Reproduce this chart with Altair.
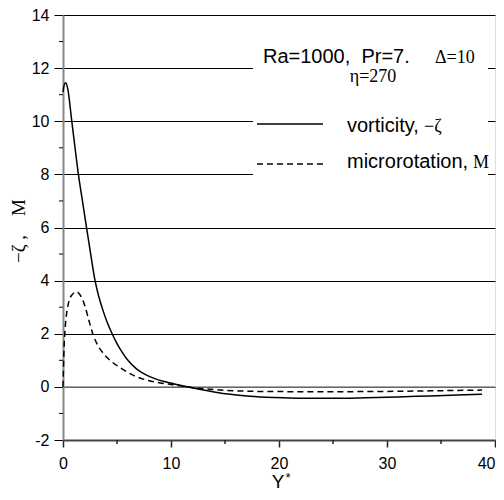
import altair as alt
import pandas as pd

# ---- data ----
vort_x = [0.0, 0.1, 0.25, 0.45, 0.8, 1.1, 1.42, 1.8, 2.19, 2.6, 2.96, 3.3, 3.7, 4.1, 4.57, 5.0, 5.5,
          6.05, 6.8, 7.6, 8.5, 9.4, 10.4, 11.3, 12.5, 14.0, 15.5, 17.3, 19.5, 22.0, 25.0, 28.0, 31.0,
          34.0, 36.5, 38.8]
vort_y = [11.1, 11.35, 11.45, 11.2, 10.05, 9.05, 8.02, 7.0, 5.97, 4.9, 4.02, 3.42, 2.88, 2.42, 1.98,
          1.63, 1.29, 0.98, 0.68, 0.47, 0.31, 0.2, 0.1, 0.02, -0.08, -0.19, -0.28, -0.35, -0.4, -0.43,
          -0.43, -0.41, -0.38, -0.34, -0.31, -0.28]

micro_x = [0.0, 0.05, 0.1, 0.18, 0.3, 0.49, 0.8, 1.27, 1.6, 2.04, 2.4, 2.8, 3.2, 3.6, 3.9, 4.5, 5.43,
           6.5, 7.9, 9.0, 10.2, 11.5, 13.0, 15.0, 18.0, 22.0, 26.0, 30.0, 34.0, 38.8]
micro_y = [0.0, 0.8, 1.5, 2.1, 2.65, 3.12, 3.45, 3.58, 3.45, 3.03, 2.5, 1.95, 1.58, 1.33, 1.18, 0.95,
           0.69, 0.44, 0.24, 0.15, 0.08, 0.0, -0.07, -0.13, -0.17, -0.18, -0.18, -0.17, -0.15, -0.12]

y_ticks = [-2, 0, 2, 4, 6, 8, 10, 12, 14]
y_minor = [-1, 1, 3, 5, 7, 9, 11, 13]
x_ticks = [0, 10, 20, 30, 40]
x_minor = [5, 15, 25, 35]

legend_title = "Ra=1000,\u00a0\u00a0Pr=7."
legend_delta = "\u0394=10"
legend_eta = "\u03b7=270"
label_vort = "vorticity,"
label_vort_sym = "\u2212\u03b6"
label_micro = "microrotation,"
label_micro_sym = "M"
y_title = "\u2212\u03b6\u00a0,\u00a0\u00a0\u00a0\u00a0M"
x_title = "Y"
x_title_sup = "*"

W, H = 432, 425
SANS = "Liberation Sans"
SERIF = "Liberation Serif"

xs = alt.Scale(domain=[0, 40], nice=False, zero=False)
ys = alt.Scale(domain=[-2, 14], nice=False, zero=False)

vort = pd.DataFrame({"x": vort_x, "y": vort_y})
micro = pd.DataFrame({"x": micro_x, "y": micro_y})
one = pd.DataFrame({"a": [0]})

x_axis = alt.Axis(values=x_ticks, grid=False, tickSize=7, tickColor="#222", tickWidth=1.5,
                  domainColor="#444", domainWidth=2, labelFont=SANS, labelFontSize=16,
                  labelColor="black", labelPadding=8, labelFlush=False, title=None,
                  labelAlign={"condition": {"test": "datum.value == 40", "value": "right"},
                              "value": "center"})
y_axis = alt.Axis(values=y_ticks, grid=True, gridColor="black", gridWidth=1, gridOpacity=1,
                  tickSize=9, tickColor="black", tickWidth=1, domainColor="#888", domainWidth=2,
                  labelFont=SANS, labelFontSize=16, labelColor="black", labelPadding=5,
                  labelFlush=False, labelExpr="'' + datum.value", title=None)

# white legend box hiding grid lines
box = alt.Chart(one).mark_rect(color="white").encode(
    x=alt.value(190), x2=alt.value(425), y=alt.value(10), y2=alt.value(190))

zero = alt.Chart(pd.DataFrame({"y": [0]})).mark_rule(color="#888", strokeWidth=1.5).encode(
    y=alt.Y("y:Q", scale=ys, axis=y_axis))

yminor = alt.Chart(pd.DataFrame({"y": y_minor})).mark_rule(color="black", strokeWidth=1).encode(
    y=alt.Y("y:Q", scale=ys), x=alt.value(-4), x2=alt.value(0))
xminor = alt.Chart(pd.DataFrame({"x": x_minor})).mark_rule(color="#222", strokeWidth=1.5).encode(
    x=alt.X("x:Q", scale=xs), y=alt.value(H), y2=alt.value(H + 4))

line_v = alt.Chart(vort).mark_line(color="black", strokeWidth=1.5, interpolate="monotone").encode(
    x=alt.X("x:Q", scale=xs, axis=x_axis), y=alt.Y("y:Q", scale=ys, axis=y_axis), order="x:Q")
line_m = alt.Chart(micro).mark_line(color="black", strokeWidth=1.5, strokeDash=[6, 4],
                                     interpolate="monotone").encode(
    x=alt.X("x:Q", scale=xs, axis=x_axis), y=alt.Y("y:Q", scale=ys, axis=y_axis), order="x:Q")


def txt(s, x, y, font=SANS, size=20, align="left", baseline="alphabetic", angle=0):
    kw = dict(font=font, fontSize=size, align=align, baseline=baseline, color="black")
    if angle:
        kw["angle"] = angle
    return alt.Chart(pd.DataFrame({"t": [s]})).mark_text(**kw).encode(
        x=alt.value(x), y=alt.value(y), text="t:N")


leg_solid = alt.Chart(one).mark_rule(color="black", strokeWidth=1.5).encode(
    x=alt.value(194), x2=alt.value(260), y=alt.value(109))
leg_dash = alt.Chart(one).mark_rule(color="black", strokeWidth=1.5, strokeDash=[6, 4]).encode(
    x=alt.value(194), x2=alt.value(260), y=alt.value(149))

texts = [
    txt(legend_title, 200, 47.5),
    txt(legend_delta, 372, 47.5, font=SERIF, size=18),
    txt(legend_eta, 310, 67, font=SERIF, size=18, align="center"),
    txt(label_vort, 284, 116.5),
    txt(label_vort_sym, 361, 116.5, font=SERIF, size=18),
    txt(label_micro, 284, 153),
    txt(label_micro_sym, 410, 153, font=SERIF, size=18),
    txt(y_title, -44, 216, font=SERIF, size=19, align="center", baseline="middle", angle=270),
    txt(x_title, 215, 473, size=19, align="center"),
    txt(x_title_sup, 222.5, 467, size=13),
]

chart = alt.layer(box, zero, yminor, xminor, line_v, line_m, leg_solid, leg_dash, *texts).properties(
    width=W, height=H,
    autosize=alt.AutoSizeParams(type="none"),
    padding={"left": 55, "top": 7, "right": 1, "bottom": 52},
).configure_view(stroke="black", strokeWidth=1).configure(background="white")

chart.save("out.html", embed_options={"renderer": "svg", "actions": False})
